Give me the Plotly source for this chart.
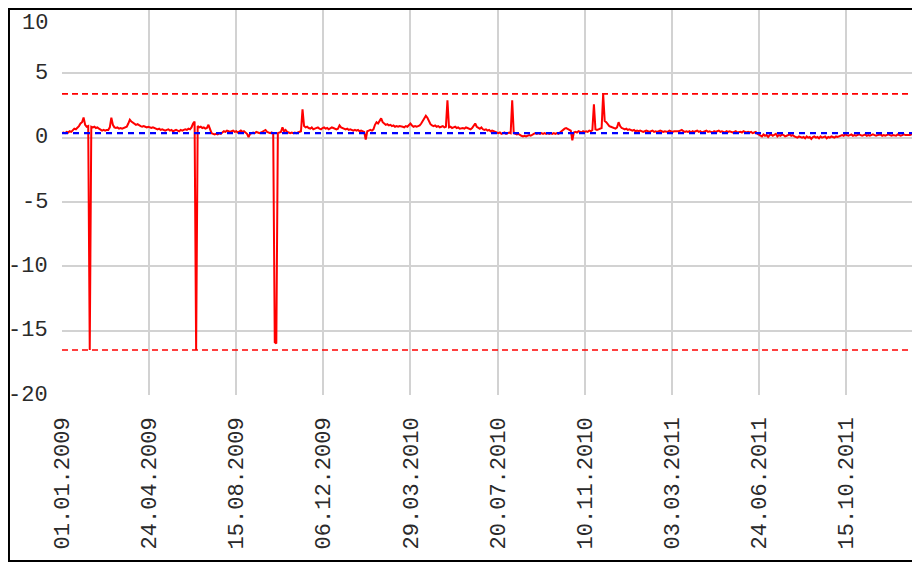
import plotly.graph_objects as go
import pandas as pd

# series sampled every 2 days starting 01.01.2009
start_date = "2009-01-01"
step_days = 2
values = [
    0.35, 0.4, 0.35, 0.45, 0.4, 0.5, 0.45, 0.55, 0.7, 0.65, 0.75, 0.9, 1.1, 1.2, 1.57, 1.0, 0.85, 0.9, -16.5, 0.85,
    0.8, 0.85, 0.75, 0.8, 0.7, 0.6, 0.55, 0.6, 0.55, 0.6, 0.6, 0.8, 1.55, 1.0, 0.8, 0.75, 0.8, 0.7, 0.75, 0.7,
    0.75, 0.8, 0.85, 1.1, 1.4, 1.25, 1.15, 1.1, 1.0, 1.05, 0.95, 0.9, 0.85, 0.9, 0.85, 0.8, 0.85, 0.8, 0.75, 0.8,
    0.75, 0.7, 0.65, 0.7, 0.6, 0.65, 0.6, 0.55, 0.6, 0.65, 0.55, 0.6, 0.5, 0.55, 0.6, 0.55, 0.5, 0.6, 0.55, 0.6,
    0.65, 0.6, 0.7, 0.65, 0.8, 1.1, 1.25, -16.5, 0.9, 0.8, 0.85, 0.75, 0.8, 0.7, 0.75, 1.0, 0.6, 0.35, 0.3, 0.25,
    0.3, 0.25, 0.35, 0.3, 0.4, 0.5, 0.45, 0.55, 0.5, 0.45, 0.5, 0.55, 0.45, 0.5, 0.4, 0.5, 0.55, 0.45, 0.5, 0.4,
    0.3, 0.05, 0.3, 0.35, 0.4, 0.35, 0.45, 0.4, 0.35, 0.4, 0.45, 0.55, 0.6, 0.45, 0.4, 0.35, 0.4, 0.3, -15.9, -16.0,
    0.35, 0.4, 0.45, 0.8, 0.5, 0.6, 0.45, 0.4, 0.35, 0.4, 0.35, 0.4, 0.35, 0.4, 0.45, 0.5, 2.2, 0.9, 0.8, 0.85,
    0.75, 0.7, 0.8, 0.65, 0.7, 0.75, 0.8, 0.7, 0.65, 0.75, 0.8, 0.7, 0.75, 0.65, 0.7, 0.8, 0.75, 0.7, 0.65, 0.7,
    0.95, 0.8, 0.75, 0.7, 0.65, 0.7, 0.6, 0.65, 0.6, 0.55, 0.6, 0.55, 0.6, 0.5, 0.55, 0.5, 0.45, -0.15, 0.5, 0.55,
    0.6, 0.55, 0.65, 1.0, 1.2, 1.1, 1.3, 1.5, 1.2, 1.1, 1.0, 1.05, 0.95, 1.0, 0.9, 0.95, 0.85, 0.9, 0.85, 0.9,
    0.9, 0.85, 0.8, 0.9, 0.85, 1.0, 1.1, 0.95, 0.85, 0.9, 0.85, 0.9, 0.95, 1.1, 1.3, 1.6, 1.7, 1.55, 1.3, 1.05,
    0.95, 0.9, 0.95, 0.85, 0.9, 0.8, 0.85, 0.9, 0.8, 0.85, 2.9, 0.8, 0.85, 0.75, 0.8, 0.85, 0.75, 0.8, 0.7, 0.75,
    0.75, 0.7, 0.8, 0.75, 0.7, 0.65, 0.75, 0.9, 1.1, 0.85, 0.75, 0.7, 0.8, 0.65, 0.6, 0.65, 0.55, 0.6, 0.5, 0.55,
    0.5, 0.45, 0.4, 0.35, 0.4, 0.3, 0.35, 0.4, 0.3, 0.35, 0.4, 0.35, 2.9, 0.35, 0.3, 0.25, 0.3, 0.2, 0.15, 0.1,
    0.15, 0.1, 0.15, 0.2, 0.15, 0.25, 0.3, 0.35, 0.3, 0.35, 0.3, 0.35, 0.3, 0.35, 0.3, 0.35, 0.3, 0.35, 0.3, 0.35,
    0.3, 0.35, 0.3, 0.4, 0.5, 0.65, 0.7, 0.75, 0.7, 0.6, 0.55, -0.2, 0.4, 0.45, 0.4, 0.5, 0.45, 0.4, 0.5, 0.45,
    0.5, 0.45, 0.55, 0.5, 0.6, 2.6, 0.65, 0.6, 0.65, 0.7, 0.75, 3.4, 1.3, 1.2, 1.0, 0.9, 0.85, 0.8, 0.75, 0.7,
    0.8, 1.2, 0.9, 0.75, 0.7, 0.65, 0.7, 0.6, 0.65, 0.6, 0.55, 0.6, 0.5, 0.55, 0.5, 0.55, 0.5, 0.45, 0.5, 0.55,
    0.5, 0.45, 0.5, 0.55, 0.45, 0.5, 0.45, 0.5, 0.55, 0.5, 0.45, 0.5, 0.5, 0.45, 0.55, 0.5, 0.45, 0.5, 0.5, 0.45,
    0.5, 0.55, 0.6, 0.5, 0.45, 0.5, 0.45, 0.5, 0.4, 0.5, 0.45, 0.5, 0.55, 0.45, 0.5, 0.4, 0.45, 0.5, 0.55, 0.45,
    0.5, 0.45, 0.4, 0.5, 0.45, 0.5, 0.55, 0.45, 0.5, 0.45, 0.4, 0.5, 0.45, 0.5, 0.45, 0.4, 0.45, 0.5, 0.4, 0.45,
    0.45, 0.4, 0.5, 0.45, 0.4, 0.45, 0.4, 0.45, 0.35, 0.4, 0.45, 0.3, 0.25, 0.2, 0.1, 0.25, 0.15, 0.2, 0.05, 0.2,
    0.25, 0.15, 0.2, 0.3, 0.1, 0.2, 0.15, 0.25, 0.2, 0.1, 0.15, 0.2, 0.25, 0.15, 0.2, 0.1, 0.05, 0.0, 0.1, 0.05,
    0.0, 0.05, -0.05, 0.1, 0.0, 0.05, -0.1, 0.05, 0.1, 0.0, 0.05, -0.05, 0.1, 0.0, 0.05, 0.1, -0.05, 0.05, 0.0, 0.1,
    0.05, 0.0, 0.1, 0.05, 0.1, 0.15, 0.2, 0.15, 0.25, 0.2, 0.15, 0.2, 0.25, 0.15, 0.2, 0.15, 0.2, 0.25, 0.2, 0.15,
    0.2, 0.25, 0.15, 0.2, 0.15, 0.2, 0.25, 0.2, 0.15, 0.2, 0.2, 0.25, 0.15, 0.2, 0.15, 0.2, 0.25, 0.2, 0.15, 0.2,
    0.2, 0.15, 0.25, 0.2, 0.15, 0.2, 0.25, 0.2, 0.2, 0.15, 0.2, 0.25, 0.3, 0.2, 0.25, 0.2, 0.3, 0.25,
]

upper_limit = 3.4
lower_limit = -16.5
mean_level = 0.35

x_range = ["2009-01-01", "2012-01-19"]
y_ticks = [10, 5, 0, -5, -10, -15, -20]
y_tick_labels = ["10", "5", "0", "-5", "-10", "-15", "-20"]

dates = pd.date_range(start_date, periods=len(values), freq=f"{step_days}D")

FONT = "Liberation Mono"
GRID = "#d2d2d2"
TEXT = "#2a2a2a"

fig = go.Figure()

fig.add_trace(go.Scatter(
    x=dates,
    y=values,
    mode="lines",
    line=dict(color="#ff0000", width=2),
    hoverinfo="skip",
    showlegend=False
))

# limit lines
for lim in (upper_limit, lower_limit):
    fig.add_hline(y=lim, line=dict(color="#ff0000", width=1.6, dash="6px,4px"))
fig.add_hline(y=mean_level, line=dict(color="#0000ff", width=2.2, dash="6px,5px"))

# y tick labels as text (the top one sits lower to stay inside the frame)
for v, t in zip(y_ticks, y_tick_labels):
    fig.add_annotation(
        x=0, xref="paper", y=v, yref="y",
        text=t, showarrow=False,
        xanchor="right", yanchor="middle",
        xshift=-12, yshift=-14 if v == 10 else 0,
        font=dict(family=FONT, size=22, color=TEXT)
    )

# outer frame
fig.add_shape(
    type="rect", xref="paper", yref="paper",
    x0=-0.0618, x1=1.01, y0=-0.43, y1=1.0,
    line=dict(color="black", width=2), fillcolor="rgba(0,0,0,0)",
    layer="above"
)

fig.update_layout(
    width=920,
    height=563,
    margin=dict(l=54, r=8, t=1, b=176),
    plot_bgcolor="white",
    paper_bgcolor="white",
    hovermode=False,
    showlegend=False,
    xaxis=dict(
        type="date",
        range=x_range,
        tick0="2009-01-01",
        dtick=113 * 86400000,
        tickformat="%d.%m.%Y",
        tickangle=-90,
        tickfont=dict(family=FONT, size=22, color=TEXT),
        showgrid=True,
        gridcolor=GRID,
        gridwidth=2,
        zeroline=False,
        showline=False,
        ticks="",
        ticklabelstandoff=17
    ),
    yaxis=dict(
        range=[-20, 10],
        tick0=0,
        dtick=5,
        showticklabels=False,
        showgrid=True,
        gridcolor=GRID,
        gridwidth=2,
        zeroline=False,
        showline=False,
        ticks=""
    )
)

fig.write_html("out.html")
